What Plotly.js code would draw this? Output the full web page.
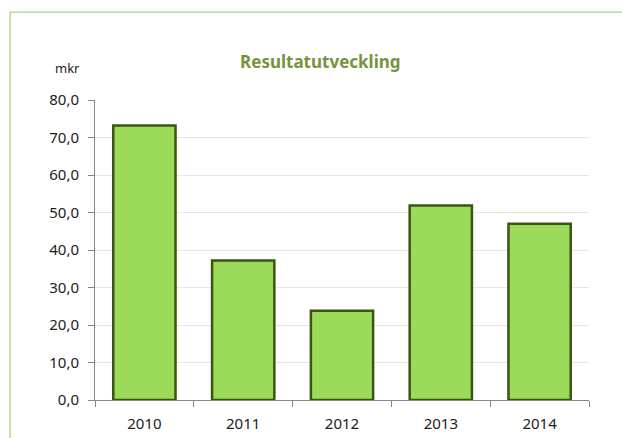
<!DOCTYPE html>
<html>
<head>
<meta charset="utf-8">
<script src="https://cdn.plot.ly/plotly-3.0.1.min.js"></script>
<style>html,body{margin:0;padding:0;background:#fff;}#chart{width:622px;height:438px;}</style>
</head>
<body>
<div id="chart"></div>
<script>
var years = ["2010", "2011", "2012", "2013", "2014"];
var values = [73.2, 37.2, 23.8, 51.9, 47.0];
var yTicks = [0, 10, 20, 30, 40, 50, 60, 70, 80];
var yTickLabels = ["0,0", "10,0", "20,0", "30,0", "40,0", "50,0", "60,0", "70,0", "80,0"];

var font = "Noto Sans, Open Sans, Liberation Sans, sans-serif";

var trace = {
  type: "bar",
  x: years,
  y: values,
  width: 0.63,
  marker: {
    color: "#9bdb59",
    line: {color: "#3a5414", width: 2.5}
  },
  hoverinfo: "x+y"
};

var layout = {
  width: 622,
  height: 438,
  margin: {l: 95, r: 33, t: 100, b: 38},
  paper_bgcolor: "#ffffff",
  plot_bgcolor: "#ffffff",
  showlegend: false,
  title: {
    text: "<b>Resultatutveckling</b>",
    font: {family: font, size: 17, color: "#77933c"},
    x: 0.515, xanchor: "center",
    y: 0.858, yanchor: "middle"
  },
  xaxis: {
    type: "category",
    showgrid: false,
    showline: true,
    linecolor: "#868686",
    linewidth: 1,
    ticks: "outside",
    tickson: "boundaries",
    ticklen: 6,
    tickcolor: "#868686",
    ticklabelstandoff: 10,
    tickfont: {family: font, size: 15, color: "#222222"},
    fixedrange: true
  },
  yaxis: {
    range: [0, 80],
    tickvals: yTicks,
    ticktext: yTickLabels,
    showgrid: true,
    gridcolor: "#e2ebd2",
    gridwidth: 1,
    zeroline: false,
    showline: true,
    linecolor: "#868686",
    linewidth: 1,
    ticks: "outside",
    ticklen: 6,
    tickcolor: "#868686",
    ticklabelstandoff: 6,
    tickfont: {family: font, size: 15, color: "#222222"},
    fixedrange: true
  },
  annotations: [{
    text: "mkr",
    xref: "paper", yref: "paper",
    x: -0.055, y: 1.107,
    xanchor: "center", yanchor: "middle",
    showarrow: false,
    font: {family: font, size: 13, color: "#222222"}
  }],
  shapes: [{
    type: "rect",
    xref: "paper", yref: "paper",
    x0: -0.172, x1: 1.08,
    y0: -0.15, y1: 1.293,
    line: {color: "#8fcc5a", width: 1},
    fillcolor: "rgba(0,0,0,0)",
    layer: "below"
  }]
};

Plotly.newPlot("chart", [trace], layout, {displayModeBar: false, staticPlot: true});
</script>
</body>
</html>
